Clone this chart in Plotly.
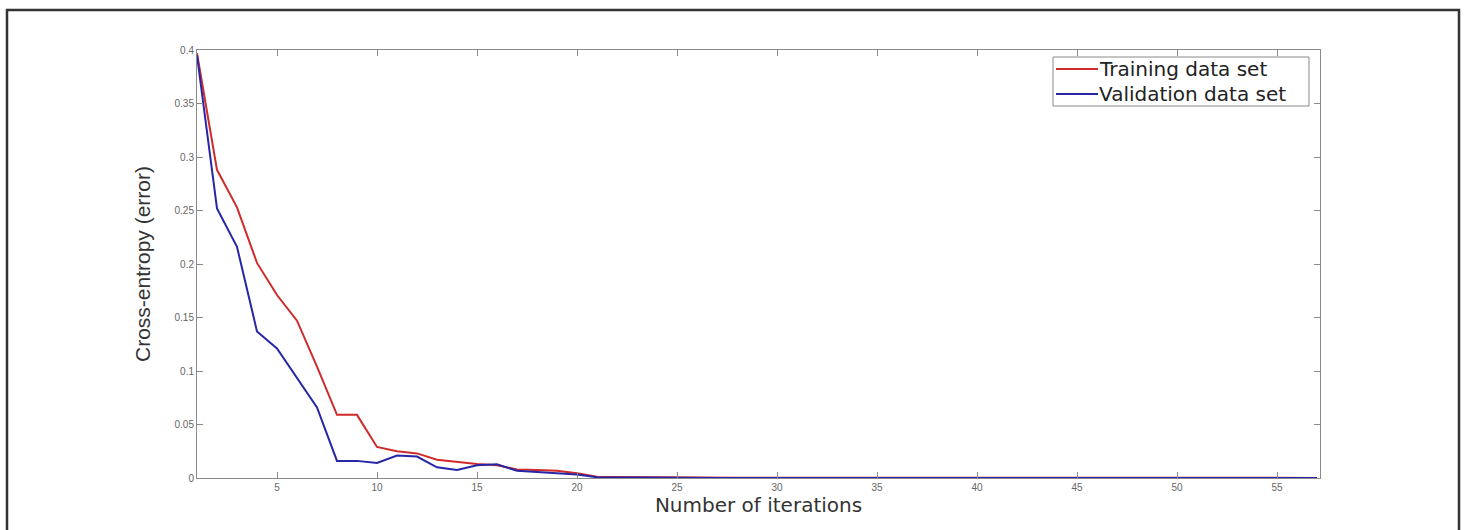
import plotly.graph_objects as go

iterations = list(range(1, 58))
training = [0.397, 0.288, 0.253, 0.201, 0.171, 0.147, 0.104, 0.059, 0.059, 0.029,
            0.025, 0.023, 0.017, 0.0147, 0.013, 0.012, 0.008, 0.0075, 0.0068, 0.0044,
            0.0012, 0.0009, 0.0007, 0.0006, 0.0005, 0.0004, 0.0004, 0.0003, 0.0003, 0.0003,
            0.0002, 0.0002, 0.0002, 0.0002, 0.0002, 0.0001, 0.0001, 0.0001, 0.0001, 0.0001,
            0.0001, 0.0001, 0.0001, 0.0001, 0.0001, 0.0001, 0.0001, 0.0001, 0.0001, 0.0001,
            0.0001, 0.0001, 0.0001, 0.0001, 0.0001, 0.0001, 0.0001]
validation = [0.395, 0.252, 0.216, 0.137, 0.121, 0.093, 0.066, 0.016, 0.016, 0.014,
              0.021, 0.020, 0.010, 0.0075, 0.012, 0.0128, 0.0068, 0.0055, 0.0045, 0.0033,
              0.0007, 0.0005, 0.0004, 0.0003, 0.0002, 0.0002, 0.0001, 0.0001, 0.0001, 0.0001,
              0.0001, 0.0001, 0.0001, 0.0001, 0.0001, 0.0, 0.0, 0.0, 0.0, 0.0,
              0.0, 0.0, 0.0, 0.0, 0.0, 0.0, 0.0, 0.0, 0.0, 0.0,
              0.0, 0.0, 0.0, 0.0, 0.0, 0.0, 0.0]
series_names = ["Training data set", "Validation data set"]
series_colors = ["#cf2b2b", "#2626a6"]
x_ticks = [5, 10, 15, 20, 25, 30, 35, 40, 45, 50, 55]
y_ticks = [0, 0.05, 0.1, 0.15, 0.2, 0.25, 0.3, 0.35, 0.4]
y_tick_text = ["0", "0.05", "0.1", "0.15", "0.2", "0.25", "0.3", "0.35", "0.4"]

# plot-area pixel geometry (page coords) used for paper-coordinate conversions
PL, PR, PT, PB = 197, 1320, 50, 478
def px(x):
    return (x - PL) / (PR - PL)
def py(y):
    return (PB - y) / (PB - PT)

fig = go.Figure()
for yv, nm, col in zip([training, validation], series_names, series_colors):
    fig.add_trace(go.Scatter(x=iterations, y=yv, mode="lines", name=nm,
                             line=dict(color=col, width=2), showlegend=False))

axis_common = dict(showgrid=False, zeroline=False, showline=True, linecolor="#8a8a8a",
                   linewidth=1, mirror="ticks", ticks="inside", ticklen=6, tickcolor="#8a8a8a",
                   tickfont=dict(family="Liberation Sans, Arial, sans-serif", size=10, color="#666666"))

fig.update_xaxes(range=[1, 57.15], tickvals=x_ticks,
                 title=dict(text="Number of iterations", standoff=4,
                            font=dict(family="DejaVu Sans, sans-serif", size=20, color="#333333")),
                 **axis_common)
fig.update_yaxes(range=[0, 0.4], tickvals=y_ticks, ticktext=y_tick_text,
                 title=dict(text="Cross-entropy (error)", standoff=18,
                            font=dict(family="Liberation Sans, Arial, sans-serif", size=21, color="#333333")),
                 **axis_common)

# outer figure frame
fig.add_shape(type="rect", xref="paper", yref="paper",
              x0=px(7), x1=px(1459), y0=py(545), y1=py(10),
              line=dict(color="#333333", width=2.5), layer="below")

# legend box drawn manually (MATLAB-style compact legend)
fig.add_shape(type="rect", xref="paper", yref="paper",
              x0=px(1053), x1=px(1309), y0=py(106), y1=py(57),
              line=dict(color="#8a8a8a", width=1), fillcolor="white", layer="above")
legend_rows = [69, 94]
for nm, col, ry in zip(series_names, series_colors, legend_rows):
    fig.add_shape(type="line", xref="paper", yref="paper",
                  x0=px(1056), x1=px(1098), y0=py(ry), y1=py(ry),
                  line=dict(color=col, width=2), layer="above")
    fig.add_annotation(xref="paper", yref="paper", x=px(1098), y=py(ry),
                       xanchor="left", yanchor="middle", text=nm, showarrow=False,
                       borderpad=0,
                       font=dict(family="DejaVu Sans, sans-serif", size=20, color="#222222"))

fig.update_layout(
    width=1465, height=530,
    margin=dict(l=PL, r=1465 - PR, t=PT, b=530 - PB),
    paper_bgcolor="white", plot_bgcolor="white",
    showlegend=False,
)

fig.write_html("out.html", config={"displayModeBar": False},
               post_script="document.body.style.margin='0';document.body.style.overflow='hidden';")
